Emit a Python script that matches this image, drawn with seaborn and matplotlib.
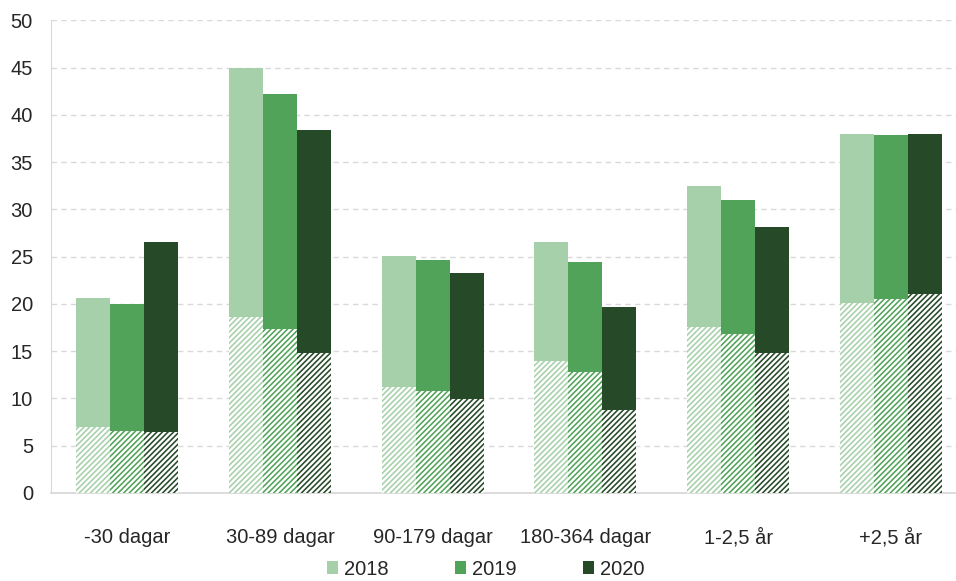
import numpy as np
import pandas as pd
import matplotlib.pyplot as plt
import seaborn as sns
from matplotlib.patches import Patch

categories = ['-30 dagar', '30-89 dagar', '90-179 dagar', '180-364 dagar', '1-2,5 år', '+2,5 år']
years = ['2018', '2019', '2020']

# total height of each bar
total_2018 = [20.6, 45.0, 25.1, 26.6, 32.5, 38.0]
total_2019 = [20.0, 42.2, 24.6, 24.4, 31.0, 37.9]
total_2020 = [26.6, 38.4, 23.3, 19.7, 28.1, 38.0]

# hatched lower part
lower_2018 = [7.0, 18.6, 11.2, 14.0, 17.6, 20.1]
lower_2019 = [6.6, 17.3, 10.8, 12.8, 16.8, 20.5]
lower_2020 = [6.5, 14.8, 9.9, 8.8, 14.8, 21.0]

colors = ['#a6d0aa', '#52a35a', '#264a28']

rows = []
for yr, tot, low in zip(years, [total_2018, total_2019, total_2020],
                        [lower_2018, lower_2019, lower_2020]):
    for c, t, l in zip(categories, tot, low):
        rows.append({'cat': c, 'year': yr, 'total': t, 'lower': l})
df = pd.DataFrame(rows)

sns.set_style('white')
plt.rcParams['font.family'] = ['Liberation Sans', 'DejaVu Sans']
plt.rcParams['hatch.linewidth'] = 1.15

fig = plt.figure(figsize=(9.56, 5.81), dpi=100)
ax = fig.add_axes([0.0533, 0.1515, 0.9467, 0.8135])

sns.barplot(data=df, x='cat', y='total', hue='year', palette=colors,
            width=0.668, ax=ax, legend=False, saturation=1, zorder=2)
sns.barplot(data=df, x='cat', y='lower', hue='year', palette=colors,
            width=0.668, ax=ax, legend=False, saturation=1, zorder=3)

for i, cont in enumerate(ax.containers[3:]):
    for p in cont:
        p.set_facecolor('white')
        p.set_edgecolor(colors[i])
        p.set_linewidth(0)
        p.set_hatch('//////')
for cont in ax.containers[:3]:
    for p in cont:
        p.set_linewidth(0)

ax.set_ylim(0, 50)
ax.set_yticks(range(0, 51, 5))
ax.set_xlim(-0.5, 5.427)
ax.set_xlabel('')
ax.set_ylabel('')
ax.yaxis.grid(True, color='#d9d9d9', linestyle=(0, (4, 3)), linewidth=1, zorder=0)
ax.set_axisbelow(True)
for s in ['top', 'right']:
    ax.spines[s].set_visible(False)
ax.spines['left'].set_color('#d9d9d9')
ax.spines['bottom'].set_color('#d9d9d9')
ax.spines['bottom'].set_linewidth(1.3)
ax.tick_params(axis='both', length=0, labelsize=14.5, colors='#262626')
ax.tick_params(axis='y', pad=13)
ax.tick_params(axis='x', pad=25)

handles = [Patch(facecolor=c, edgecolor='none') for c in colors]
fig.legend(handles, years, loc='lower center', bbox_to_anchor=(0.508, -0.027), ncol=3,
           frameon=False, fontsize=14.5, handlelength=0.55, handleheight=0.55,
           handletextpad=0.3, columnspacing=3.3, labelcolor='#262626')

fig.savefig('out.png', dpi=100)
